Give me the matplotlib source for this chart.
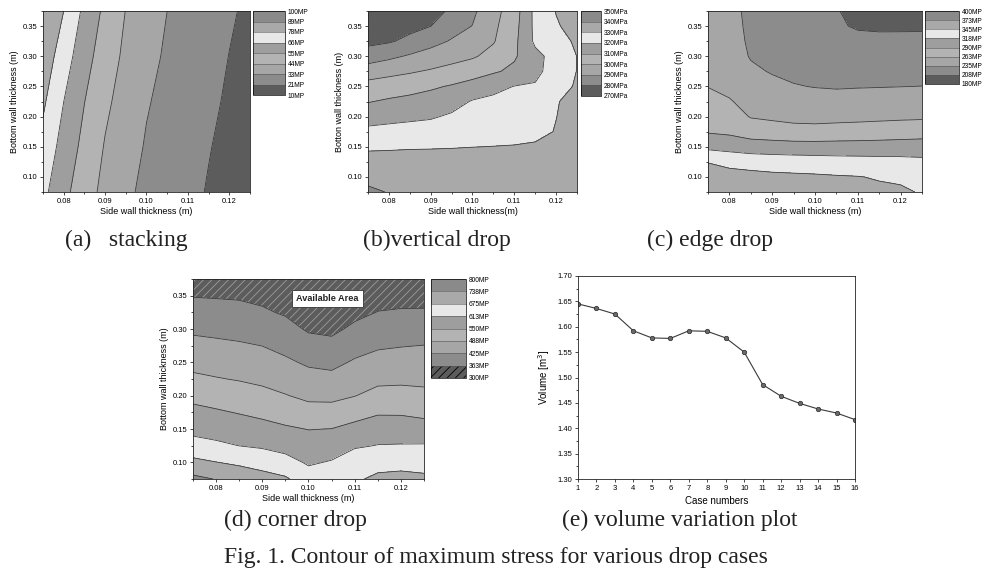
import numpy as np
import matplotlib

matplotlib.use("Agg")
import matplotlib.pyplot as plt

plt.rcParams["font.family"] = ["Liberation Sans", "DejaVu Sans"]
plt.rcParams["hatch.color"] = "#9c9c9c"
plt.rcParams["hatch.linewidth"] = 0.6

# grey bands, lowest stress band first (scan of a colour contour map)
BAND_GRAYS = ["#5c5c5c", "#8c8c8c", "#a6a6a6", "#b3b3b3",
              "#9e9e9e", "#e8e8e8", "#a9a9a9", "#8a8a8a"]
LINE_INK = "#353535"
SERIF = ["Liberation Serif", "DejaVu Serif"]

SIDE_WALL = [0.075, 0.080, 0.085, 0.090, 0.095, 0.100, 0.105, 0.110, 0.115, 0.120, 0.125]
BOTTOM_A = [0.375, 0.300, 0.225, 0.150, 0.075]
BOTTOM = [0.375, 0.350, 0.325, 0.300, 0.275, 0.250, 0.225, 0.200, 0.175, 0.150, 0.125, 0.100, 0.075]

# (a) stacking, MPa, rows from top (0.375) to bottom (0.075)
STRESS_A = [
    [88.5, 77.5, 63.7, 52.5, 43.5, 38.0, 32.5, 29.1, 25.8, 22.4, 19.5],
    [84.3, 71.7, 59.3, 49.3, 41.5, 35.8, 31.0, 27.8, 24.4, 21.1, 18.3],
    [79.3, 66.3, 55.2, 45.9, 39.3, 33.3, 29.7, 26.4, 23.1, 20.0, 17.2],
    [74.0, 62.1, 51.9, 43.0, 36.9, 31.6, 28.3, 25.1, 21.7, 18.9, 16.1],
    [69.1, 58.0, 48.6, 40.7, 34.3, 30.3, 27.0, 23.7, 20.6, 17.8, 15.0],
]
LEVELS_A = [10, 21.25, 32.5, 43.75, 55, 66.25, 77.5, 88.75, 100]
LABELS_A = ["10MP", "21MP", "33MP", "44MP", "55MP", "66MP", "78MP", "89MP", "100MP"]

# (b) vertical drop
STRESS_B = [
    [271.0, 272.0, 273.8, 276.3, 281.6, 288.2, 296.6, 305.3, 322.6, 330.3, 334.0],
    [274.2, 275.4, 277.4, 279.9, 286.1, 290.2, 298.0, 306.5, 322.3, 329.2, 333.0],
    [277.7, 279.0, 282.3, 286.8, 290.8, 294.5, 299.3, 307.6, 321.8, 326.3, 331.5],
    [284.6, 287.9, 291.1, 293.9, 296.6, 298.9, 303.1, 308.8, 317.3, 323.5, 330.1],
    [295.5, 297.3, 299.0, 301.0, 303.2, 305.8, 308.8, 312.1, 317.8, 323.9, 330.2],
    [303.3, 304.8, 306.4, 308.6, 310.8, 313.6, 317.5, 320.2, 320.8, 326.4, 331.0],
    [309.5, 311.3, 312.7, 314.1, 316.3, 320.7, 322.0, 322.7, 323.3, 329.6, 332.0],
    [315.9, 317.1, 318.1, 319.0, 321.3, 323.7, 324.7, 325.2, 325.8, 329.9, 332.5],
    [322.4, 323.1, 323.7, 324.3, 325.5, 326.9, 327.4, 327.8, 328.3, 330.3, 333.0],
    [328.7, 329.0, 329.3, 329.4, 329.6, 329.9, 330.1, 330.3, 330.8, 331.0, 334.0],
    [333.2, 333.1, 333.2, 333.3, 333.3, 333.3, 333.3, 333.3, 333.3, 333.3, 335.0],
    [337.1, 336.8, 336.9, 337.0, 337.0, 337.0, 337.0, 337.0, 337.0, 337.0, 337.0],
    [342.0, 339.5, 339.0, 339.0, 339.0, 339.0, 339.0, 339.0, 339.0, 339.0, 339.0],
]
LEVELS_B = [270, 280, 290, 300, 310, 320, 330, 340, 350]
LABELS_B = ["270MPa", "280MPa", "290MPa", "300MPa", "310MPa",
            "320MPa", "330MPa", "340MPa", "350MPa"]

# (c) edge drop
STRESS_C = [
    [246.0, 240.0, 231.0, 227.3, 221.3, 215.3, 209.0, 200.0, 196.0, 195.0, 194.0],
    [248.0, 241.0, 231.5, 228.0, 222.0, 216.5, 210.0, 205.5, 204.5, 204.5, 204.5],
    [251.0, 243.0, 232.0, 229.0, 223.5, 218.5, 213.0, 212.8, 212.3, 212.5, 212.8],
    [254.0, 246.0, 233.5, 231.0, 225.5, 222.0, 218.0, 219.9, 219.7, 220.0, 220.3],
    [258.0, 250.0, 238.8, 233.5, 230.0, 227.5, 225.0, 226.8, 226.9, 227.4, 227.8],
    [262.0, 256.0, 246.2, 240.5, 236.3, 234.2, 233.0, 233.8, 234.2, 234.7, 235.2],
    [269.7, 264.5, 253.6, 249.3, 246.0, 244.2, 244.1, 244.5, 245.4, 246.3, 247.0],
    [278.6, 274.7, 261.0, 258.2, 255.8, 254.9, 255.4, 256.1, 257.1, 258.1, 258.8],
    [287.8, 285.0, 277.5, 274.3, 271.1, 270.7, 272.4, 273.6, 275.0, 276.5, 277.7],
    [310.8, 307.1, 302.8, 301.9, 301.0, 300.6, 300.8, 301.0, 301.5, 302.3, 303.4],
    [344.2, 338.3, 334.8, 332.3, 331.0, 329.8, 328.4, 327.4, 326.4, 325.5, 323.3],
    [355.0, 354.0, 352.7, 350.8, 349.7, 348.6, 347.0, 345.8, 343.1, 340.6, 334.4],
    [362.0, 360.0, 358.0, 357.0, 356.0, 355.0, 354.0, 352.0, 350.0, 349.0, 343.0],
]
LEVELS_C = [180, 207.5, 235, 262.5, 290, 317.5, 345, 372.5, 400]
LABELS_C = ["180MP", "208MP", "235MP", "263MP", "290MP", "318MP", "345MP", "373MP", "400MP"]

# (d) corner drop, one list per side-wall value, top (0.375) to bottom (0.075)
STRESS_D_COLS = [
    [345.1, 360.1, 386.4, 414.8, 442.4, 469.6, 499.3, 534.0, 566.1, 595.8, 635.4, 690.0, 752.5],
    [343.3, 358.3, 382.4, 410.1, 437.2, 463.7, 490.8, 524.1, 556.9, 588.1, 624.0, 676.2, 735.0],
    [341.5, 356.5, 378.5, 405.2, 431.8, 457.8, 483.9, 514.9, 546.8, 579.3, 611.9, 664.4, 715.0],
    [336.1, 351.1, 369.1, 396.8, 424.4, 449.9, 475.3, 504.1, 536.0, 569.7, 604.8, 650.0, 699.0],
    [327.1, 342.1, 357.1, 380.2, 407.9, 435.3, 462.5, 490.2, 523.8, 557.6, 592.4, 633.3, 683.0],
    [311.5, 326.5, 341.5, 356.5, 382.7, 416.3, 446.2, 474.9, 509.4, 548.4, 577.0, 605.2, 640.0],
    [307.9, 322.9, 337.9, 352.9, 374.9, 409.2, 441.9, 473.1, 509.7, 550.8, 582.9, 617.0, 645.0],
    [321.7, 336.7, 351.7, 371.2, 402.1, 432.0, 458.9, 485.9, 527.2, 567.1, 604.3, 651.5, 664.0],
    [333.1, 348.1, 363.6, 390.7, 417.9, 445.6, 473.6, 506.3, 544.0, 579.5, 614.6, 649.7, 690.0],
    [334.6, 349.6, 366.4, 394.6, 422.7, 449.4, 475.8, 507.6, 543.5, 579.8, 616.1, 652.5, 696.0],
    [334.6, 349.6, 366.7, 396.4, 426.0, 450.0, 474.0, 502.1, 535.3, 574.6, 617.1, 650.0, 688.0],
]
LEVELS_D = [300, 362.5, 425, 487.5, 550, 612.5, 675, 737.5, 800]
LABELS_D = ["300MP", "363MP", "425MP", "488MP", "550MP", "613MP", "675MP", "738MP", "800MP"]

# (e) volume per case
CASES = list(range(1, 17))
VOLUME = [1.645, 1.636, 1.625, 1.592, 1.578, 1.577, 1.592, 1.591,
          1.578, 1.550, 1.486, 1.463, 1.449, 1.438, 1.430, 1.417]

W, H = 984, 581


def box(x0, y0, x1, y1):
    # pixel box (top-left origin) -> figure fraction rect
    return [x0 / W, 1 - y1 / H, (x1 - x0) / W, (y1 - y0) / H]


def style_axes(ax):
    ax.tick_params(which="both", direction="out", labelsize=5.5, width=0.5, pad=1.5)
    ax.tick_params(which="major", length=2.5)
    ax.tick_params(which="minor", length=1.4)
    for s in ax.spines.values():
        s.set_linewidth(0.6)
        s.set_color("#222222")


def contour_panel(fig, ax, cax, ys, z, levels, labels, xlabel, ylabel, hatched=False):
    extra = {"hatches": ["////"] + [None] * 7} if hatched else {}
    cs = ax.contourf(SIDE_WALL, ys, z, levels=levels, colors=BAND_GRAYS, **extra)
    ax.contour(SIDE_WALL, ys, z, levels=levels[1:-1], colors=LINE_INK, linewidths=0.55)
    ax.set_xlim(0.075, 0.125)
    ax.set_ylim(0.075, 0.375)
    ax.set_xticks([0.08, 0.09, 0.10, 0.11, 0.12])
    ax.set_xticks(np.arange(0.075, 0.1251, 0.005), minor=True)
    ax.set_yticks([0.10, 0.15, 0.20, 0.25, 0.30, 0.35])
    ax.set_yticks(np.arange(0.075, 0.3751, 0.025), minor=True)
    ax.xaxis.set_major_formatter(matplotlib.ticker.FormatStrFormatter("%.2f"))
    ax.yaxis.set_major_formatter(matplotlib.ticker.FormatStrFormatter("%.2f"))
    ax.set_xlabel(xlabel, fontsize=6.5, labelpad=2)
    ax.set_ylabel(ylabel, fontsize=6.5, labelpad=3)
    style_axes(ax)

    cb = fig.colorbar(cs, cax=cax, drawedges=True)
    cb.set_ticks(levels)
    cb.set_ticklabels(labels)
    cax.tick_params(length=0, labelsize=4.8, pad=2)
    cb.outline.set_linewidth(0.5)
    cb.dividers.set_color("#555555")
    cb.dividers.set_linewidth(0.4)
    return cs


def main():
    fig = plt.figure(figsize=(W / 100, H / 100), dpi=100)
    fig.patch.set_facecolor("white")

    ax_a = fig.add_axes(box(43, 11, 250, 192))
    cax_a = fig.add_axes(box(253, 11, 285, 95))
    contour_panel(fig, ax_a, cax_a, BOTTOM_A, STRESS_A, LEVELS_A, LABELS_A,
                  "Side wall thickness (m)", "Bottom wall thickness (m)")

    ax_b = fig.add_axes(box(368, 11, 577, 192))
    cax_b = fig.add_axes(box(581, 11, 601, 96))
    contour_panel(fig, ax_b, cax_b, BOTTOM, STRESS_B, LEVELS_B, LABELS_B,
                  "Side wall thickness(m)", "Botton wall thickness (m)")

    ax_c = fig.add_axes(box(708, 11, 922, 192))
    cax_c = fig.add_axes(box(925, 11, 959, 84))
    contour_panel(fig, ax_c, cax_c, BOTTOM, STRESS_C, LEVELS_C, LABELS_C,
                  "Side wall thickness (m)", "Bottom wall thickness (m)")

    ax_d = fig.add_axes(box(193, 279, 424, 479))
    cax_d = fig.add_axes(box(431, 279, 466, 378))
    contour_panel(fig, ax_d, cax_d, BOTTOM, np.array(STRESS_D_COLS).T, LEVELS_D, LABELS_D,
                  "Side wall thickness (m)", "Bottom wall thickness (m)", hatched=True)
    ax_d.text(0.1041, 0.3458, "Available Area", ha="center", va="center", fontsize=6.6,
              fontweight="bold", color="#222222",
              bbox=dict(facecolor="white", edgecolor="#333333", linewidth=0.6, pad=3))

    ax_e = fig.add_axes(box(578, 276, 855, 479))
    ax_e.plot(CASES, VOLUME, color="#3a3a3a", linewidth=0.8, marker="o", markersize=3.2,
              markerfacecolor="#6a6a6a", markeredgecolor="#2a2a2a", markeredgewidth=0.5)
    ax_e.set_xlim(1, 16)
    ax_e.set_ylim(1.30, 1.70)
    ax_e.set_xticks(CASES)
    ax_e.set_yticks(np.arange(1.30, 1.7001, 0.05))
    ax_e.set_yticks(np.arange(1.30, 1.7001, 0.025), minor=True)
    ax_e.yaxis.set_major_formatter(matplotlib.ticker.FormatStrFormatter("%.2f"))
    ax_e.set_xlabel("Case numbers", fontsize=7, labelpad=3)
    ax_e.set_ylabel("Volume [m$^3$]", fontsize=7, labelpad=4)
    style_axes(ax_e)

    captions = [
        (65, 240, "(a)   stacking"),
        (363, 240, "(b)vertical drop"),
        (647, 240, "(c) edge drop"),
        (224, 520, "(d) corner drop"),
        (562, 520, "(e) volume variation plot"),
        (224, 557, "Fig. 1. Contour of maximum stress for various drop cases"),
    ]
    for x, y, s in captions:
        fig.text(x / W, 1 - y / H, s, ha="left", va="center", fontsize=17,
                 family=SERIF, color="#222222")

    fig.savefig("out.png", dpi=100, facecolor="white")


if __name__ == "__main__":
    main()
